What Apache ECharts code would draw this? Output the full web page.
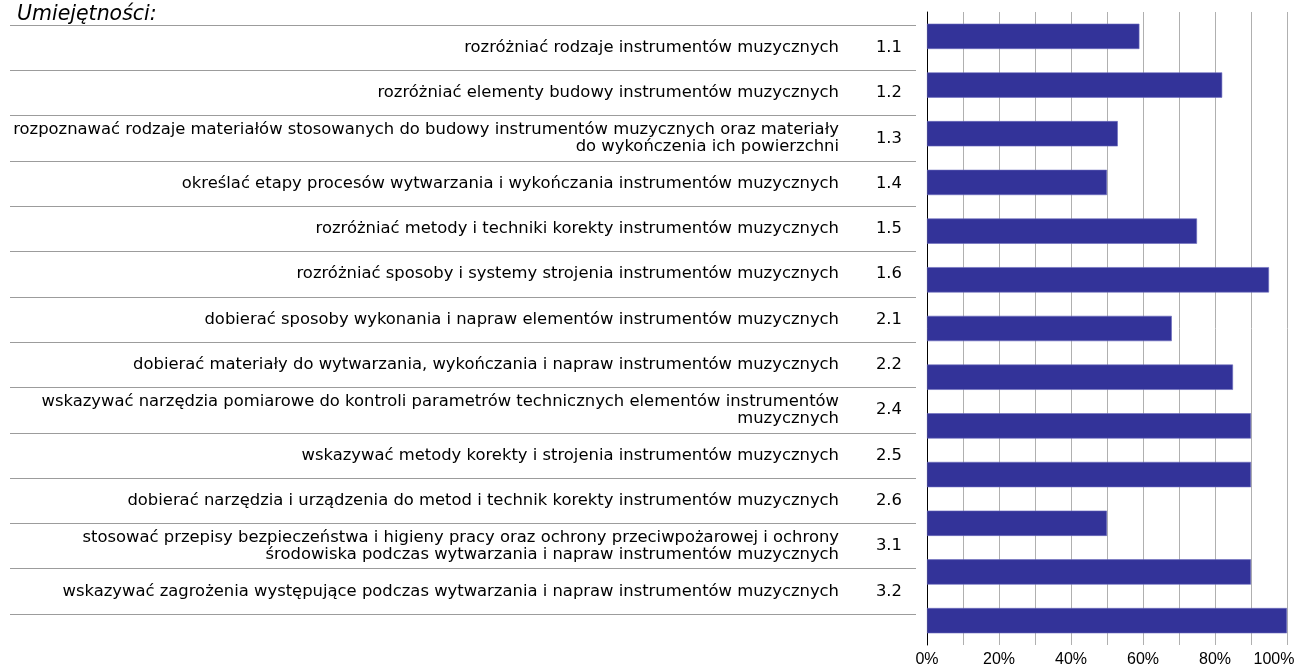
<!DOCTYPE html>
<html>
<head>
<meta charset="utf-8">
<title>Umiejętności</title>
<script src="https://cdn.jsdelivr.net/npm/echarts@6.0.0/dist/echarts.min.js"></script>
<style>
  html, body { margin: 0; padding: 0; background: #fff; }
  #chart { width: 1296px; height: 666px; }
</style>
</head>
<body>
<div id="chart"></div>
<script>
// kody efektow ksztalcenia
const codes = ['1.1', '1.2', '1.3', '1.4', '1.5', '1.6', '2.1', '2.2', '2.4', '2.5', '2.6', '3.1', '3.2']
// opisy umiejetnosci (z recznym lamaniem linii jak w oryginale)
const skills = [
  'rozróżniać rodzaje instrumentów muzycznych',
  'rozróżniać elementy budowy instrumentów muzycznych',
  'rozpoznawać rodzaje materiałów stosowanych do budowy instrumentów muzycznych oraz materiały\ndo wykończenia ich powierzchni',
  'określać etapy procesów wytwarzania i wykończania instrumentów muzycznych',
  'rozróżniać metody i techniki korekty instrumentów muzycznych',
  'rozróżniać sposoby i systemy strojenia instrumentów muzycznych',
  'dobierać sposoby wykonania i napraw elementów instrumentów muzycznych',
  'dobierać materiały do wytwarzania, wykończania i napraw instrumentów muzycznych',
  'wskazywać narzędzia pomiarowe do kontroli parametrów technicznych elementów instrumentów\nmuzycznych',
  'wskazywać metody korekty i strojenia instrumentów muzycznych',
  'dobierać narzędzia i urządzenia do metod i technik korekty instrumentów muzycznych',
  'stosować przepisy bezpieczeństwa i higieny pracy oraz ochrony przeciwpożarowej i ochrony\nśrodowiska podczas wytwarzania i napraw instrumentów muzycznych',
  'wskazywać zagrożenia występujące podczas wytwarzania i napraw instrumentów muzycznych'
]
// odsetek (%)
const values = [59, 82, 53, 50, 75, 95, 68, 85, 90, 90, 50, 90, 100]
const tickLabels = ['0%', '20%', '40%', '60%', '80%', '100%']

const labelFont = 'DejaVu Sans'

const chart = echarts.init(document.getElementById('chart'))

chart.setOption({
  animation: false,
  title: {
    text: 'Umiejętności:',
    left: 12,
    top: 0,
    textStyle: {
      fontFamily: labelFont,
      fontStyle: 'italic',
      fontWeight: 'normal',
      fontSize: 20.5,
      color: '#000'
    }
  },
  grid: [
    // wykres slupkowy
    { left: 927, right: 9, top: 12, bottom: 21, outerBoundsMode: 'none' },
    // tabela z opisami
    { left: 10, right: 380, top: 25, bottom: 52, outerBoundsMode: 'none' }
  ],
  xAxis: [
    {
      gridIndex: 0,
      type: 'value',
      min: 0,
      max: 100,
      interval: 10,
      axisLine: { show: false },
      axisTick: { show: false },
      splitLine: { show: true, lineStyle: { color: '#b0b0b0', width: 1 } },
      axisLabel: {
        margin: 7,
        fontFamily: 'Liberation Sans',
        fontSize: 16,
        color: '#000',
        formatter: function(v) {
          if (v % 20 !== 0) return ''
          const t = tickLabels[v / 20]
          return v === 100 ? '{last|' + t + '}' : t
        },
        rich: {
          last: { fontFamily: 'Liberation Sans', fontSize: 16, color: '#000', padding: [0, 26, 0, 0] }
        }
      }
    },
    { gridIndex: 1, type: 'value', show: false }
  ],
  yAxis: [
    {
      gridIndex: 0,
      type: 'category',
      data: codes,
      inverse: true,
      axisLine: { show: true, lineStyle: { color: '#000', width: 1 } },
      axisTick: { show: false },
      axisLabel: { show: false },
      splitLine: { show: false }
    },
    {
      gridIndex: 1,
      type: 'category',
      data: skills,
      inverse: true,
      position: 'right',
      axisLine: { show: false },
      axisTick: { show: false },
      splitLine: { show: true, lineStyle: { color: '#9c9c9c', width: 1 } },
      axisLabel: {
        inside: true,
        margin: 77,
        interval: 0,
        align: 'right',
        fontFamily: labelFont,
        fontSize: 16.4,
        lineHeight: 17,
        color: '#000'
      }
    },
    {
      gridIndex: 1,
      type: 'category',
      data: codes,
      inverse: true,
      position: 'right',
      axisLine: { show: false },
      axisTick: { show: false },
      splitLine: { show: false },
      axisLabel: {
        inside: true,
        margin: 14,
        interval: 0,
        align: 'right',
        fontFamily: labelFont,
        fontSize: 16.4,
        color: '#000'
      }
    }
  ],
  series: [
    {
      type: 'bar',
      xAxisIndex: 0,
      yAxisIndex: 0,
      data: values,
      barCategoryGap: '48%',
      itemStyle: { color: '#333399', borderColor: '#6c6cbd', borderWidth: 0.6 }
    }
  ]
})
</script>
</body>
</html>
